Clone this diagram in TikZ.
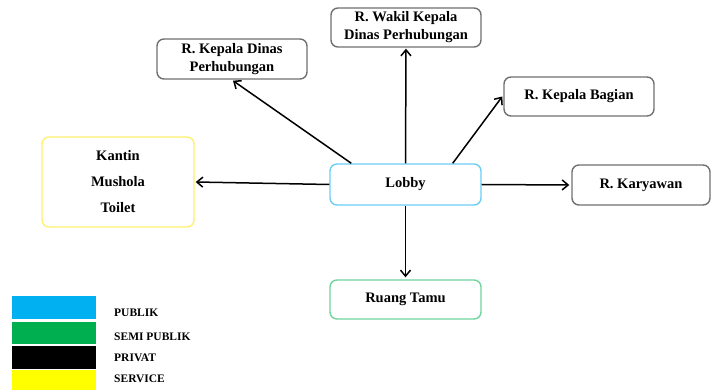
\documentclass[tikz,border=0pt]{standalone}
\usepackage{fontspec}
\setmainfont{Liberation Serif}
\usetikzlibrary{arrows.meta}
\definecolor{bordgray}{HTML}{707070}
\definecolor{lobbyb}{HTML}{6CCDF5}
\definecolor{tamub}{HTML}{6FD49E}
\definecolor{kantinb}{HTML}{FFF170}
\definecolor{lgblue}{HTML}{00B0F0}
\definecolor{lggreen}{HTML}{00B050}
\definecolor{lgyellow}{HTML}{FFFF00}
\tikzset{
  room/.style={draw=bordgray, line width=1.4pt, rounded corners=7pt, fill=white,
    align=center, inner sep=0pt, font=\fontsize{14.5}{18}\selectfont\bfseries},
  conn/.style={line width=1.5pt, -{Straight Barb[length=6pt,width=10pt]}},
  lgtext/.style={anchor=west, inner sep=0pt, font=\fontsize{11.5}{13}\selectfont\bfseries},
}
\begin{document}
\begin{tikzpicture}[x=1pt,y=-1pt]
\useasboundingbox (0,0) rectangle (713,390);
% rooms
\node[room, minimum width=150pt, minimum height=40pt] (kd) at (232,59) {R. Kepala Dinas\\Perhubungan};
\node[room, minimum width=150pt, minimum height=39pt] (wk) at (406,27.5) {R. Wakil Kepala\\Dinas Perhubungan};
\node[room, minimum width=150pt, minimum height=39pt] (kb) at (579,96.5) {R. Kepala Bagian};
\node[room, draw=kantinb, minimum width=152pt, minimum height=90pt,
  font=\fontsize{14.5}{26}\selectfont\bfseries] (kantin) at (118,182) {Kantin\\Mushola\\Toilet};
\node[room, draw=lobbyb, minimum width=151pt, minimum height=41pt] (lobby) at (405.5,184.5) {Lobby};
\node[room, minimum width=138pt, minimum height=40pt] (kar) at (641,185) {R. Karyawan};
\node[room, draw=tamub, minimum width=151pt, minimum height=39pt] (rt) at (405.5,299.5) {Ruang Tamu};
% connectors
\draw[conn] ([xshift=22pt]lobby.north west) -- ([xshift=1pt,yshift=-1pt]kd.south);
\draw[conn] (lobby.north) -- ([yshift=-1pt]wk.south);
\draw[conn] ([xshift=-29pt]lobby.north east) -- ([xshift=-1pt]kb.west);
\draw[conn] (lobby.west) -- ([xshift=1pt]kantin.east);
\draw[conn] (lobby.east) -- ([xshift=-2pt]kar.west);
\draw[conn] (lobby.south) -- ([yshift=2pt]rt.north);
% legend
\fill[lgblue] (12,296) rectangle (96,319);
\fill[lggreen] (12,322) rectangle (96,344);
\fill[black] (12,346) rectangle (96,369);
\fill[lgyellow] (12,370) rectangle (96,390);
\node[lgtext] (l1) at (114,313) {PUBLIK};
\node[lgtext] (l2) at (114,337) {SEMI PUBLIK};
\node[lgtext] (l3) at (114,358) {PRIVAT};
\node[lgtext] (l4) at (114,379) {SERVICE};
\end{tikzpicture}
\end{document}
